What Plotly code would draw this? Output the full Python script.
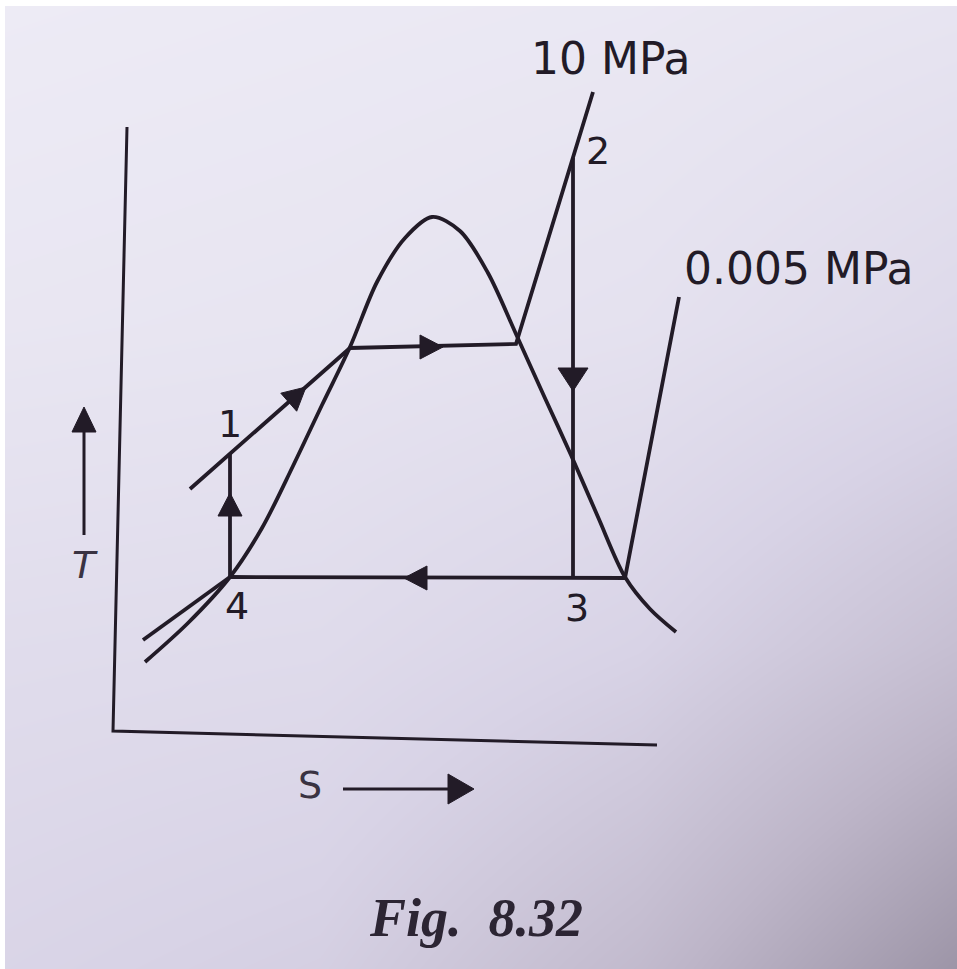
import numpy as np
import plotly.graph_objects as go

W, H = 957, 969

axes_s = [127, 113, 657]
axes_T = [127, 731, 745]

dome_s = [145, 188, 230, 262, 293, 322, 350, 377, 405, 432, 460, 488, 516, 544, 571, 598, 625, 650, 676]
dome_T = [662, 623, 577, 528, 466, 405, 347, 282, 238, 217, 231, 273, 334, 396, 455, 517, 577, 609, 632]

liq_low_s = [143, 187, 230]          # 0.005 MPa line in the liquid region
liq_low_T = [640, 608, 577]

high_p_s = [190, 350, 516, 593]      # 10 MPa line
high_p_T = [489, 348, 344, 92]

low_p_s = [230, 625, 679]            # 0.005 MPa line (condenser + superheat)
low_p_T = [577, 578, 297]

pump_s = [230, 230]
pump_T = [577, 453]

turbine_s = [573, 573]
turbine_T = [158, 578]

# arrowheads: tip position and direction
arrow_s = [230, 306, 443, 573, 404]
arrow_T = [493, 387, 347, 391, 578]
arrow_ds = [0, 160, 1, 0, -1]
arrow_dT = [-1, -141, 0, 1, 0]

# axis-name arrows
t_arrow_s = [84, 84]
t_arrow_T = [535, 407]
s_arrow_s = [343, 474]
s_arrow_T = [789, 789]

# labels
label_text = ["10 MPa", "2", "0.005 MPa", "1", "4", "3"]
label_s = [610, 598, 798, 230, 237, 577]
label_T = [58, 151, 268, 424, 606, 608]
label_size = [44, 38, 44, 38, 38, 38]

# paper shading (photo background), 0 = light, 1 = dark
bg_x = [0, 320, 640, 957]
bg_y = [0, 323, 646, 969]
bg_shade = [
    [0.00, 0.02, 0.04, 0.08],
    [0.06, 0.08, 0.12, 0.22],
    [0.18, 0.20, 0.30, 0.50],
    [0.28, 0.34, 0.55, 0.88],
]

INK = "#221b27"

fig = go.Figure()

# background heatmap
fig.add_trace(go.Heatmap(
    x=bg_x, y=bg_y, z=bg_shade, zsmooth="best", showscale=False, hoverinfo="skip",
    zmin=0, zmax=1,
    colorscale=[[0, "#edebf5"], [0.3, "#d8d3e6"], [0.6, "#bdb5c8"], [1, "#8f8799"]],
    xaxis="x", yaxis="y",
))


def line(s, T, w=3.8, shape="linear"):
    fig.add_trace(go.Scatter(x=s, y=T, mode="lines", line=dict(color=INK, width=w, shape=shape,
                                                                smoothing=0.9 if shape == "spline" else None),
                             hoverinfo="skip", showlegend=False, xaxis="x2", yaxis="y2"))


def head(ts, tT, ds, dT, L=22, hw=12):
    n = np.hypot(ds, dT)
    us, uT = ds / n, dT / n
    bs, bT = ts - L * us, tT - L * uT
    ps, pT = -uT, us
    xs = [ts, bs + hw * ps, bs - hw * ps, ts]
    ys = [tT, bT + hw * pT, bT - hw * pT, tT]
    fig.add_trace(go.Scatter(x=xs, y=ys, mode="lines", fill="toself", fillcolor=INK,
                             line=dict(color=INK, width=1), hoverinfo="skip", showlegend=False,
                             xaxis="x2", yaxis="y2"))


line(axes_s, axes_T, 3)
line(dome_s, dome_T, 3.8, "spline")
line(liq_low_s, liq_low_T)
line(high_p_s, high_p_T)
line(low_p_s, low_p_T)
line(pump_s, pump_T)
line(turbine_s, turbine_T)

for a, b, c, d in zip(arrow_s, arrow_T, arrow_ds, arrow_dT):
    hw = 15 if (c == 0 and d > 0) else 12
    head(a, b, c, d, L=23, hw=hw)

line(t_arrow_s, [t_arrow_T[0], t_arrow_T[1] + 20], 3)
head(t_arrow_s[1], t_arrow_T[1], 0, -1, L=25, hw=12)
line([s_arrow_s[0], s_arrow_s[1] - 20], s_arrow_T, 3)
head(s_arrow_s[1], s_arrow_T[1], 1, 0, L=26, hw=15)

annotations = []
for t, a, b, sz in zip(label_text, label_s, label_T, label_size):
    annotations.append(dict(text=t, x=a, y=b, xref="x2", yref="y2", showarrow=False,
                            font=dict(family="DejaVu Sans", size=sz, color=INK)))
annotations.append(dict(text="<i>T</i>", x=85, y=565, xref="x2", yref="y2", showarrow=False,
                        font=dict(family="DejaVu Sans", size=38, color="#3a3342")))
annotations.append(dict(text="S", x=310, y=785, xref="x2", yref="y2", showarrow=False,
                        font=dict(family="DejaVu Sans", size=38, color="#3a3342")))
annotations.append(dict(text="<b><i>Fig.&nbsp; 8.32</i></b>", x=476, y=918, xref="x2", yref="y2", showarrow=False,
                        font=dict(family="Liberation Serif", size=54, color="#2c2533")))

fig.update_layout(
    width=W, height=H,
    margin=dict(l=0, r=0, t=0, b=0, pad=0),
    paper_bgcolor="#ffffff",
    plot_bgcolor="rgba(0,0,0,0)",
    showlegend=False,
    xaxis=dict(domain=[5 / W, 1], range=[5, W], visible=False, fixedrange=True),
    yaxis=dict(domain=[0, 1 - 6 / H], range=[H, 6], visible=False, fixedrange=True),
    xaxis2=dict(domain=[0, 1], range=[0, W], visible=False, fixedrange=True, anchor="y2"),
    yaxis2=dict(domain=[0, 1], range=[H, 0], visible=False, fixedrange=True, anchor="x2"),
    annotations=annotations,
)

fig.write_html("out.html", config={"displayModeBar": False},
               post_script="document.body.style.margin='0';document.body.style.overflow='hidden';")
